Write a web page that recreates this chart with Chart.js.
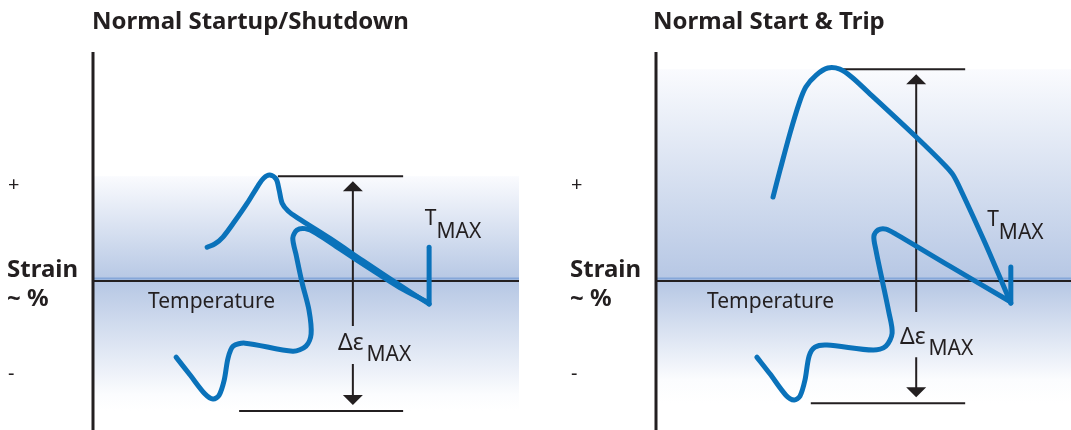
<!DOCTYPE html>
<html>
<head>
<meta charset="utf-8">
<script src="https://cdn.jsdelivr.net/npm/chart.js@4.4.1/dist/chart.umd.min.js"></script>
<style>
  html, body { margin: 0; padding: 0; background: #fff; overflow: hidden; }
  #wrap { position: relative; width: 1071px; height: 430px; }
  canvas { position: absolute; top: 0; }
</style>
</head>
<body>
<div id="wrap">
  <canvas id="startup" width="540" height="430" style="left:0"></canvas>
  <canvas id="trip" width="531" height="430" style="left:540px"></canvas>
</div>
<script>
// Temperature runs 0..100 along each panel, strain -65..100 (0 = the axis line).

// Normal Startup/Shutdown
const ssHeatT = [26.8, 28.6, 30.5, 33.3, 36.2, 38.7, 40.1, 41.5, 43.0, 43.7, 44.4, 45.8, 48.1, 55.8, 63.4, 71.0, 78.9];
const ssHeatS = [14.8, 16.2, 19.2, 26.2, 34.0, 41.5, 45.0, 46.3, 44.5, 39.7, 34.0, 30.6, 27.5, 18.4, 8.8, -0.6, -10.0];
const ssLoopT = [19.5, 22.8, 26.3, 28.2, 29.6, 30.8, 31.7, 32.9, 35.7, 46.9, 50.0, 51.2, 50.7, 49.1, 47.7, 46.9, 47.9, 49.8, 52.3, 58.5, 65.4, 72.0, 78.6];
const ssLoopS = [-33.2, -41.0, -49.3, -51.5, -49.8, -43.2, -33.6, -28.4, -27.1, -30.6, -28.4, -23.1, -12.7, -0.9, 11.3, 18.8, 22.3, 22.9, 21.0, 13.4, 5.0, -2.8, -9.2];
const ssTmaxT = [78.9, 78.9];
const ssTmaxS = [-10.0, 14.8];
const ssRangeMax = 45.8, ssRangeMin = -56.7;   // strain limits of the delta-eps lines

// Normal Start & Trip
const trHeatT = [28.2, 29.9, 32.3, 34.5, 36.1, 38.6, 41.4, 44.3, 47.2, 51.1, 62.7, 69.6, 71.6, 73.7, 79.3, 85.5];
const trHeatS = [36.7, 48.5, 64.6, 77.7, 84.7, 89.9, 93.0, 92.5, 89.0, 82.5, 62.9, 50.6, 46.3, 38.8, 16.6, -9.6];
const trLoopT = [24.3, 27.5, 31.3, 33.3, 34.7, 35.9, 36.9, 38.3, 41.2, 52.3, 55.4, 56.9, 56.1, 54.5, 53.0, 52.5, 53.5, 55.4, 57.8, 70.8, 85.1];
const trLoopS = [-33.2, -40.6, -49.8, -51.9, -50.2, -43.2, -32.7, -28.8, -27.9, -30.1, -28.4, -22.7, -13.5, 0.4, 13.5, 19.6, 22.3, 22.7, 20.5, 6.5, -8.7];
const trTmaxT = [85.5, 85.5];
const trTmaxS = [-9.6, 6.1];
const trRangeMax = 92.5, trRangeMin = -53.3;

// strain tick labels
const tickLabels = ['+', '-'];
const tickValues = [41.9, -40.6];

const ink = '#231f20';
const blue = '#0a72ba';
const font = '"Noto Sans", "Open Sans", sans-serif';

function pts(xs, ys) {
  return xs.map((v, i) => ({ x: v, y: ys[i] }));
}

function curve(xs, ys, tension) {
  return {
    data: pts(xs, ys),
    showLine: true,
    borderColor: blue,
    borderWidth: 5,
    borderCapStyle: 'round',
    borderJoinStyle: 'round',
    pointRadius: 0,
    tension: tension
  };
}

function arrowHead(ctx, x, tipY, dir) {
  ctx.beginPath();
  ctx.moveTo(x, tipY);
  ctx.lineTo(x - 10, tipY + dir * 10);
  ctx.lineTo(x + 10, tipY + dir * 10);
  ctx.closePath();
  ctx.fill();
}

function makeDiagram(p) {
  return {
    id: 'diagram',
    beforeDatasetsDraw(chart) {
      const { ctx, chartArea: a, scales: { x, y } } = chart;
      const top = y.getPixelForValue(p.rangeMax);
      const bot = y.getPixelForValue(p.rangeMin);
      const mid = y.getPixelForValue(0);
      ctx.save();

      // shaded band
      const g = ctx.createLinearGradient(0, top, 0, bot);
      g.addColorStop(0, '#fafbfe');
      g.addColorStop((mid - top) / (bot - top), '#b6c7e4');
      g.addColorStop(0.93, '#fbfcfe');
      g.addColorStop(1, '#ffffff');
      ctx.fillStyle = g;
      ctx.fillRect(a.left, top, a.right - a.left, bot - top);

      // light blue edge just above the axis
      ctx.strokeStyle = '#86a7d9';
      ctx.lineWidth = 2;
      ctx.beginPath();
      ctx.moveTo(a.left, mid - 2.5);
      ctx.lineTo(a.right, mid - 2.5);
      ctx.stroke();

      // axes
      ctx.strokeStyle = ink;
      ctx.lineWidth = 2;
      ctx.beginPath();
      ctx.moveTo(a.left, mid);
      ctx.lineTo(a.right, mid);
      ctx.stroke();
      ctx.lineWidth = 3;
      ctx.beginPath();
      ctx.moveTo(a.left, a.top);
      ctx.lineTo(a.left, a.bottom);
      ctx.stroke();

      // delta-eps max limit lines and arrow
      ctx.lineWidth = 2;
      ctx.beginPath();
      ctx.moveTo(x.getPixelForValue(p.topLine[0]), top);
      ctx.lineTo(x.getPixelForValue(p.topLine[1]), top);
      ctx.moveTo(x.getPixelForValue(p.botLine[0]), bot);
      ctx.lineTo(x.getPixelForValue(p.botLine[1]), bot);
      const ax = x.getPixelForValue(p.arrowT);
      ctx.moveTo(ax, top + 12);
      ctx.lineTo(ax, y.getPixelForValue(p.gap[0]));
      ctx.moveTo(ax, y.getPixelForValue(p.gap[1]));
      ctx.lineTo(ax, bot - 12);
      ctx.stroke();
      ctx.fillStyle = ink;
      arrowHead(ctx, ax, top + 5, 1);
      arrowHead(ctx, ax, bot - 6, -1);
      ctx.restore();
    },
    afterDraw(chart) {
      const { ctx, chartArea: a, scales: { x, y } } = chart;
      ctx.save();
      ctx.fillStyle = ink;
      ctx.textBaseline = 'alphabetic';
      ctx.textAlign = 'left';

      ctx.font = 'bold 24px ' + font;
      ctx.fillText(p.title, a.left + p.titleDx, 29);

      ctx.textBaseline = 'middle';
      ctx.font = '20px ' + font;
      tickValues.forEach((v, i) => {
        ctx.fillText(tickLabels[i], a.left - 85, y.getPixelForValue(v));
      });

      ctx.font = 'bold 24px ' + font;
      ctx.fillText('Strain', a.left - 86, y.getPixelForValue(0) - 11);
      ctx.fillText('~ %', a.left - 86, y.getPixelForValue(0) + 18);

      ctx.font = '21px ' + font;
      ctx.fillText('Temperature', x.getPixelForValue(p.tempLabel[0]), y.getPixelForValue(p.tempLabel[1]));

      // T max
      ctx.font = '21px ' + font;
      const tx = x.getPixelForValue(p.tmaxLabel[0]);
      const ty = y.getPixelForValue(p.tmaxLabel[1]);
      ctx.fillText('T', tx, ty);
      ctx.fillText('MAX', tx + ctx.measureText('T').width, ty + 13);

      // delta eps max
      const dx = x.getPixelForValue(p.depsLabel[0]);
      const dy = y.getPixelForValue(p.depsLabel[1]);
      ctx.font = '23px ' + font;
      ctx.fillText('Δε', dx, dy);
      const w = ctx.measureText('Δε').width;
      ctx.font = '21px ' + font;
      ctx.fillText('MAX', dx + w + 3, dy + 12);
      ctx.restore();
    }
  };
}

function makePanel(id, p) {
  return new Chart(document.getElementById(id), {
    type: 'scatter',
    data: {
      datasets: [
        curve(p.heatT, p.heatS, 0.3),
        curve(p.loopT, p.loopS, 0.3),
        curve(p.tmaxT, p.tmaxS, 0)
      ]
    },
    options: {
      responsive: false,
      animation: false,
      devicePixelRatio: 1,
      layout: { padding: p.pad },
      plugins: { legend: { display: false }, tooltip: { enabled: false } },
      scales: {
        x: { type: 'linear', display: false, min: 0, max: 100 },
        y: { type: 'linear', display: false, min: -65, max: 100 }
      }
    },
    plugins: [makeDiagram(p)]
  });
}

makePanel('startup', {
  title: 'Normal Startup/Shutdown', titleDx: -1,
  pad: { left: 93, top: 52, right: 21, bottom: 0 },
  heatT: ssHeatT, heatS: ssHeatS, loopT: ssLoopT, loopS: ssLoopS, tmaxT: ssTmaxT, tmaxS: ssTmaxS,
  rangeMax: ssRangeMax, rangeMin: ssRangeMin,
  topLine: [43.4, 72.8], botLine: [34.3, 72.8], arrowT: 61.0, gap: [-19.6, -36.2],
  tempLabel: [12.9, -9.2], tmaxLabel: [77.9, 27.1], depsLabel: [57.5, -27.1]
});

makePanel('trip', {
  title: 'Normal Start & Trip', titleDx: -3,
  pad: { left: 116, top: 52, right: 0, bottom: 0 },
  heatT: trHeatT, heatS: trHeatS, loopT: trLoopT, loopS: trLoopS, tmaxT: trTmaxT, tmaxS: trTmaxS,
  rangeMax: trRangeMax, rangeMin: trRangeMin,
  topLine: [44.3, 74.5], botLine: [37.3, 74.5], arrowT: 62.7, gap: [-13.5, -33.2],
  tempLabel: [12.3, -9.2], tmaxLabel: [79.8, 26.6], depsLabel: [58.8, -24.4]
});
</script>
</body>
</html>
